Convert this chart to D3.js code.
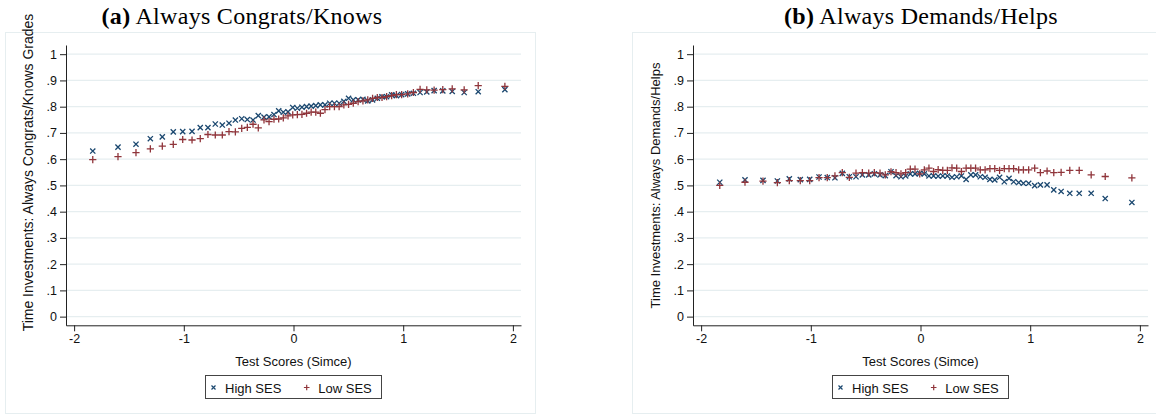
<!DOCTYPE html>
<html>
<head>
<meta charset="utf-8">
<script src="https://cdn.jsdelivr.net/npm/d3@7"></script>
<style>
  body { margin: 0; background: #fff; }
  svg { display: block; }
</style>
</head>
<body>
<svg id="chart"></svg>
<script>
// binned test scores (shared by both panels)
const scoreBins = [-1.83, -1.60, -1.436, -1.305, -1.196, -1.096, -1.01, -0.925, -0.85, -0.78,
  -0.713, -0.649, -0.588, -0.53, -0.472, -0.421, -0.369, -0.321, -0.269, -0.223,
  -0.178, -0.135, -0.093, -0.05, -0.007, 0.035, 0.077, 0.119, 0.161, 0.203,
  0.245, 0.287, 0.33, 0.373, 0.416, 0.459, 0.502, 0.545, 0.589, 0.633,
  0.677, 0.721, 0.764, 0.807, 0.849, 0.895, 0.938, 0.986, 1.041, 1.093,
  1.154, 1.215, 1.282, 1.361, 1.447, 1.556, 1.684, 1.927];

// (a) Always Congrats/Knows
const congratsHigh = [0.631, 0.646, 0.657, 0.678, 0.685, 0.704, 0.705, 0.706, 0.720, 0.720,
  0.734, 0.730, 0.737, 0.749, 0.754, 0.751, 0.749, 0.766, 0.760, 0.761,
  0.770, 0.784, 0.779, 0.780, 0.797, 0.794, 0.798, 0.800, 0.802, 0.804,
  0.807, 0.807, 0.813, 0.813, 0.813, 0.820, 0.832, 0.826, 0.826, 0.828,
  0.822, 0.826, 0.832, 0.838, 0.838, 0.845, 0.842, 0.846, 0.849, 0.851,
  0.854, 0.856, 0.861, 0.860, 0.858, 0.854, 0.857, 0.865];
const congratsLow = [0.598, 0.610, 0.625, 0.639, 0.650, 0.656, 0.675, 0.673, 0.678, 0.694,
  0.692, 0.692, 0.705, 0.704, 0.717, 0.721, 0.733, 0.719, 0.750, 0.743,
  0.752, 0.753, 0.757, 0.765, 0.769, 0.770, 0.771, 0.775, 0.779, 0.779,
  0.775, 0.789, 0.800, 0.800, 0.800, 0.807, 0.809, 0.813, 0.819, 0.822,
  0.826, 0.832, 0.835, 0.835, 0.838, 0.842, 0.846, 0.846, 0.849, 0.854,
  0.866, 0.864, 0.863, 0.865, 0.868, 0.864, 0.880, 0.877];

// (b) Always Demands/Helps
const demandsHigh = [0.512, 0.521, 0.519, 0.517, 0.525, 0.522, 0.523, 0.532, 0.530, 0.529,
  0.546, 0.533, 0.533, 0.540, 0.540, 0.544, 0.540, 0.537, 0.552, 0.537,
  0.533, 0.536, 0.544, 0.544, 0.546, 0.544, 0.536, 0.536, 0.535, 0.536,
  0.536, 0.531, 0.533, 0.536, 0.523, 0.540, 0.540, 0.533, 0.531, 0.523,
  0.521, 0.531, 0.514, 0.527, 0.514, 0.511, 0.508, 0.508, 0.499, 0.502,
  0.502, 0.483, 0.477, 0.470, 0.470, 0.470, 0.450, 0.435];
const demandsLow = [0.500, 0.512, 0.516, 0.511, 0.518, 0.518, 0.518, 0.530, 0.530, 0.536,
  0.549, 0.531, 0.547, 0.549, 0.547, 0.549, 0.547, 0.540, 0.552, 0.549,
  0.544, 0.549, 0.562, 0.562, 0.544, 0.559, 0.566, 0.553, 0.560, 0.557,
  0.557, 0.567, 0.566, 0.553, 0.566, 0.566, 0.566, 0.559, 0.559, 0.564,
  0.564, 0.557, 0.564, 0.564, 0.564, 0.559, 0.559, 0.559, 0.566, 0.549,
  0.555, 0.549, 0.550, 0.557, 0.557, 0.540, 0.534, 0.529];

const yTicks = [0, 0.1, 0.2, 0.3, 0.4, 0.5, 0.6, 0.7, 0.8, 0.9, 1];
const yTickLabels = ['0', '.1', '.2', '.3', '.4', '.5', '.6', '.7', '.8', '.9', '1'];
const xTicks = [-2, -1, 0, 1, 2];
const xTickLabels = ['-2', '-1', '0', '1', '2'];
const seriesNames = ['High SES', 'Low SES'];

const width = 1156,
  height = 415;
const navy = '#1a476f',
  maroon = '#90353b',
  gridColor = '#e6eef0';
const sans = 'Liberation Sans, Arial, sans-serif';

let svg = d3
  .select('#chart')
  .attr('width', width)
  .attr('height', height)
  .attr('viewBox', [0, 0, width, height]);

svg.append('rect').attr('width', width).attr('height', height).attr('fill', '#fff');

function markerPath(type) {
  if (type == 'x') {
    let s = 2.6;
    return `M${-s},${-s}L${s},${s}M${-s},${s}L${s},${-s}`;
  }
  let s = 3.6;
  return `M${-s},0L${s},0M0,${-s}L0,${s}`;
}

function drawPanel(offsetX, tag, title, yLabel, yLabelCenter, yLabelSize, titleCenter, high, low) {
  let g = svg.append('g').attr('transform', `translate(${offsetX},0)`);

  // graph region frame
  g.append('rect')
    .attr('x', 5.5)
    .attr('y', 32.5)
    .attr('width', 530)
    .attr('height', 381)
    .attr('fill', 'none')
    .attr('stroke', gridColor)
    .attr('stroke-width', 1);

  let xPos = d3.scaleLinear().domain([-2.074, 2.074]).range([66, 521]);
  let yPos = d3.scaleLinear().domain([-0.033, 1.035]).range([325.3, 45]);

  // grid
  g.append('g')
    .selectAll('line')
    .data(yTicks)
    .join('line')
    .attr('x1', xPos.range()[0])
    .attr('x2', xPos.range()[1])
    .attr('y1', (d) => yPos(d))
    .attr('y2', (d) => yPos(d))
    .attr('stroke', gridColor)
    .attr('stroke-width', 1.2);

  let yAxis = g
    .append('g')
    .attr('transform', `translate(${xPos.range()[0]},0)`)
    .call(
      d3
        .axisLeft(yPos)
        .tickValues(yTicks)
        .tickFormat((d, i) => yTickLabels[i])
        .tickSize(6)
        .tickSizeOuter(0)
        .tickPadding(3)
    );

  let xAxis = g
    .append('g')
    .attr('transform', `translate(0,${yPos.range()[0]})`)
    .call(
      d3
        .axisBottom(xPos)
        .tickValues(xTicks)
        .tickFormat((d, i) => xTickLabels[i])
        .tickSize(6)
        .tickSizeOuter(0)
        .tickPadding(3)
    );

  [xAxis, yAxis].forEach((ax) => {
    ax.selectAll('path, line').attr('stroke', '#222').attr('stroke-width', 1);
    ax.selectAll('text')
      .attr('fill', '#111')
      .style('font-family', sans)
      .style('font-size', '12.5px');
  });

  // markers: High SES first, Low SES drawn on top
  g.append('g')
    .selectAll('path')
    .data(scoreBins.map((x, i) => ({ x: x, y: high[i] })))
    .join('path')
    .attr('transform', (d) => `translate(${xPos(d.x)},${yPos(d.y)})`)
    .attr('d', markerPath('x'))
    .attr('stroke', navy)
    .attr('stroke-width', 1.3)
    .attr('fill', 'none');

  g.append('g')
    .selectAll('path')
    .data(scoreBins.map((x, i) => ({ x: x, y: low[i] })))
    .join('path')
    .attr('transform', (d) => `translate(${xPos(d.x)},${yPos(d.y)})`)
    .attr('d', markerPath('+'))
    .attr('stroke', maroon)
    .attr('stroke-width', 1.3)
    .attr('fill', 'none');

  // axis titles
  g.append('text')
    .attr('x', xPos(0))
    .attr('y', 365.5)
    .attr('text-anchor', 'middle')
    .style('font-family', sans)
    .style('font-size', '13px')
    .attr('fill', '#111')
    .text('Test Scores (Simce)');

  g.append('text')
    .attr('transform', `translate(32.5,${yLabelCenter}) rotate(-90)`)
    .attr('text-anchor', 'middle')
    .style('font-family', sans)
    .style('font-size', yLabelSize + 'px')
    .attr('fill', '#111')
    .text(yLabel);

  // panel caption
  let t = g
    .append('text')
    .attr('x', titleCenter)
    .attr('y', 24)
    .attr('text-anchor', 'middle')
    .style('font-family', 'Liberation Serif, Times New Roman, serif')
    .style('font-size', '24px')
    .style('letter-spacing', '0.3px')
    .attr('fill', '#000');
  t.append('tspan').style('font-weight', 'bold').text(tag);
  t.append('tspan').text(' ' + title);

  // legend
  let lg = g.append('g');
  lg.append('rect')
    .attr('x', 205.5)
    .attr('y', 375.5)
    .attr('width', 176)
    .attr('height', 23)
    .attr('fill', '#fff')
    .attr('stroke', '#444')
    .attr('stroke-width', 1);
  let legendItems = [
    { name: seriesNames[0], type: 'x', color: navy, mx: 213.5, tx: 225 },
    { name: seriesNames[1], type: '+', color: maroon, mx: 306.7, tx: 318.3 },
  ];
  legendItems.forEach((d) => {
    lg.append('path')
      .attr('transform', `translate(${d.mx},387.5)`)
      .attr('d', d.type == 'x' ? 'M-2,-2L2,2M-2,2L2,-2' : 'M-2.8,0L2.8,0M0,-2.8L0,2.8')
      .attr('stroke', d.color)
      .attr('stroke-width', 1.2);
    lg.append('text')
      .attr('x', d.tx)
      .attr('y', 392.5)
      .style('font-family', sans)
      .style('font-size', '13px')
      .attr('fill', '#111')
      .text(d.name);
  });
}

drawPanel(0, '(a)', 'Always Congrats/Knows', 'Time Investments: Always Congrats/Knows Grades',
  172.5, 14, 242, congratsHigh, congratsLow);
drawPanel(627, '(b)', 'Always Demands/Helps', 'Time Investments: Always Demands/Helps',
  185.5, 13, 294, demandsHigh, demandsLow);
</script>
</body>
</html>
